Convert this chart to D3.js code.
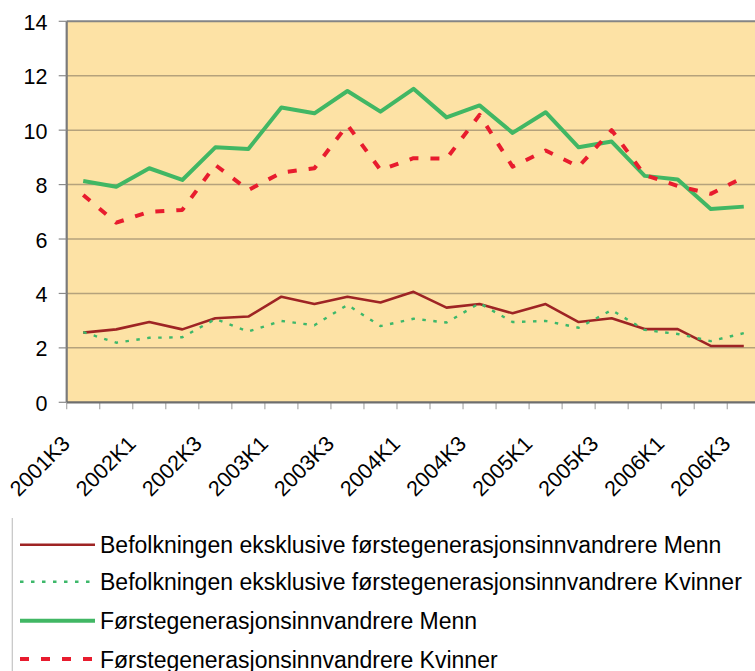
<!DOCTYPE html>
<html>
<head>
<meta charset="utf-8">
<script src="https://cdn.jsdelivr.net/npm/d3@7"></script>
<style>
  body { margin: 0; background: #fff; }
  text { font-family: "Liberation Sans", Arial, sans-serif; fill: #000; }
</style>
</head>
<body>
<div id="chart"></div>
<script>
const quarters = ["2001K3", "2001K4", "2002K1", "2002K2", "2002K3", "2002K4", "2003K1", "2003K2",
  "2003K3", "2003K4", "2004K1", "2004K2", "2004K3", "2004K4", "2005K1", "2005K2", "2005K3",
  "2005K4", "2006K1", "2006K2", "2006K3"];

const befolkningMenn = [2.56, 2.68, 2.95, 2.68, 3.09, 3.15, 3.88, 3.61, 3.88, 3.67, 4.06,
  3.48, 3.61, 3.27, 3.61, 2.95, 3.09, 2.69, 2.69, 2.07, 2.07];
const befolkningKvinner = [2.58, 2.19, 2.37, 2.39, 3.06, 2.6, 2.99, 2.83, 3.58, 2.8, 3.07,
  2.93, 3.64, 2.95, 2.99, 2.74, 3.39, 2.66, 2.51, 2.25, 2.54];
const innvandrereMenn = [8.13, 7.92, 8.6, 8.17, 9.37, 9.31, 10.83, 10.62, 11.44, 10.68, 11.52,
  10.47, 10.91, 9.9, 10.66, 9.37, 9.58, 8.32, 8.19, 7.1, 7.19];
const innvandrereKvinner = [7.62, 6.6, 7.0, 7.07, 8.72, 7.8, 8.44, 8.6, 10.19, 8.54, 8.97,
  8.95, 10.56, 8.66, 9.25, 8.66, 10.0, 8.35, 7.95, 7.66, 8.27];

const yTicks = [0, 2, 4, 6, 8, 10, 12, 14];

const series = [
  { name: "Befolkningen eksklusive førstegenerasjonsinnvandrere Menn", values: befolkningMenn,
    color: "#9e2424", width: 2.6, dash: null },
  { name: "Befolkningen eksklusive førstegenerasjonsinnvandrere Kvinner", values: befolkningKvinner,
    color: "#3db86a", width: 2.4, dash: "3.5,7.5" },
  { name: "Førstegenerasjonsinnvandrere Menn", values: innvandrereMenn,
    color: "#41b764", width: 4, dash: null },
  { name: "Førstegenerasjonsinnvandrere Kvinner", values: innvandrereKvinner,
    color: "#e81c2e", width: 4, dash: "9,12" }
];

const w = 755, h = 671;
const plotLeft = 66.7, plotRight = 760.3, plotTop = 21.3, plotBottom = 402.3;

const svg = d3.select("#chart").append("svg")
  .attr("width", w)
  .attr("height", h);

const x = d3.scaleBand().domain(quarters).range([plotLeft, plotRight]).padding(0);
const y = d3.scaleLinear().domain([0, 14]).range([plotBottom, plotTop]);

// plot background
svg.append("rect")
  .attr("x", plotLeft).attr("y", plotTop)
  .attr("width", plotRight - plotLeft).attr("height", plotBottom - plotTop)
  .attr("fill", "#fde2a5");

// gridlines
svg.selectAll(".grid")
  .data(yTicks.filter(d => d > 0 && d < 14))
  .join("line")
  .attr("class", "grid")
  .attr("x1", plotLeft).attr("x2", plotRight)
  .attr("y1", d => y(d)).attr("y2", d => y(d))
  .attr("stroke", "#b5a27c")
  .attr("stroke-width", 1.5);

// top border
svg.append("line")
  .attr("x1", plotLeft).attr("x2", plotRight)
  .attr("y1", plotTop).attr("y2", plotTop)
  .attr("stroke", "#858585").attr("stroke-width", 2);

// y axis
const yAxis = svg.append("g");
yAxis.append("line")
  .attr("x1", plotLeft).attr("x2", plotLeft)
  .attr("y1", plotTop).attr("y2", plotBottom)
  .attr("stroke", "#7a7a7a").attr("stroke-width", 2.2);
yAxis.selectAll(".ytick")
  .data(yTicks)
  .join("line")
  .attr("x1", plotLeft - 8).attr("x2", plotLeft)
  .attr("y1", d => y(d)).attr("y2", d => y(d))
  .attr("stroke", "#8a8a8a").attr("stroke-width", 1.2);
yAxis.selectAll(".ylabel")
  .data(yTicks)
  .join("text")
  .attr("x", 47.5)
  .attr("y", d => y(d) + 8.5)
  .attr("text-anchor", "end")
  .style("font-size", "21.5px")
  .text(d => d);

// x axis
const xAxis = svg.append("g");
const bounds = quarters.map(q => x(q)).concat([plotRight]);
xAxis.selectAll(".xtick")
  .data(bounds)
  .join("line")
  .attr("x1", d => d).attr("x2", d => d)
  .attr("y1", plotBottom).attr("y2", plotBottom + 7)
  .attr("stroke", "#aaaaaa").attr("stroke-width", 1.2);
xAxis.append("line")
  .attr("x1", plotLeft).attr("x2", plotRight)
  .attr("y1", plotBottom).attr("y2", plotBottom)
  .attr("stroke", "#6e6e6e").attr("stroke-width", 2.2);
xAxis.selectAll(".xlabel")
  .data(quarters.filter((d, i) => i % 2 == 0))
  .join("text")
  .attr("text-anchor", "end")
  .attr("transform", d => "translate(" + (x(d) + x.bandwidth() / 2 - 12) + "," + 445 + ") rotate(-45)")
  .style("font-size", "21.5px")
  .text(d => d);

// lines
const line = d3.line()
  .x((d, i) => x(quarters[i]) + x.bandwidth() / 2)
  .y(d => y(d));

svg.selectAll(".series")
  .data(series)
  .join("path")
  .attr("class", "series")
  .attr("d", d => line(d.values))
  .attr("fill", "none")
  .attr("stroke", d => d.color)
  .attr("stroke-width", d => d.width)
  .attr("stroke-dasharray", d => d.dash)
  .attr("stroke-linejoin", "round");

// legend
svg.append("line")
  .attr("x1", 12.3).attr("x2", 12.3)
  .attr("y1", 518).attr("y2", h)
  .attr("stroke", "#c4c4c4").attr("stroke-width", 1.2);

const legendY = [544.7, 581.7, 620.7, 659];
const legend = svg.selectAll(".legend")
  .data(series)
  .join("g")
  .attr("class", "legend")
  .attr("transform", (d, i) => "translate(0," + legendY[i] + ")");
legend.append("line")
  .attr("x1", 20).attr("x2", 95)
  .attr("stroke", d => d.color)
  .attr("stroke-width", d => d.width)
  .attr("stroke-dasharray", d => d.dash);
legend.append("text")
  .attr("x", 100)
  .attr("y", 8.5)
  .style("font-size", "23px")
  .text(d => d.name);
</script>
</body>
</html>
